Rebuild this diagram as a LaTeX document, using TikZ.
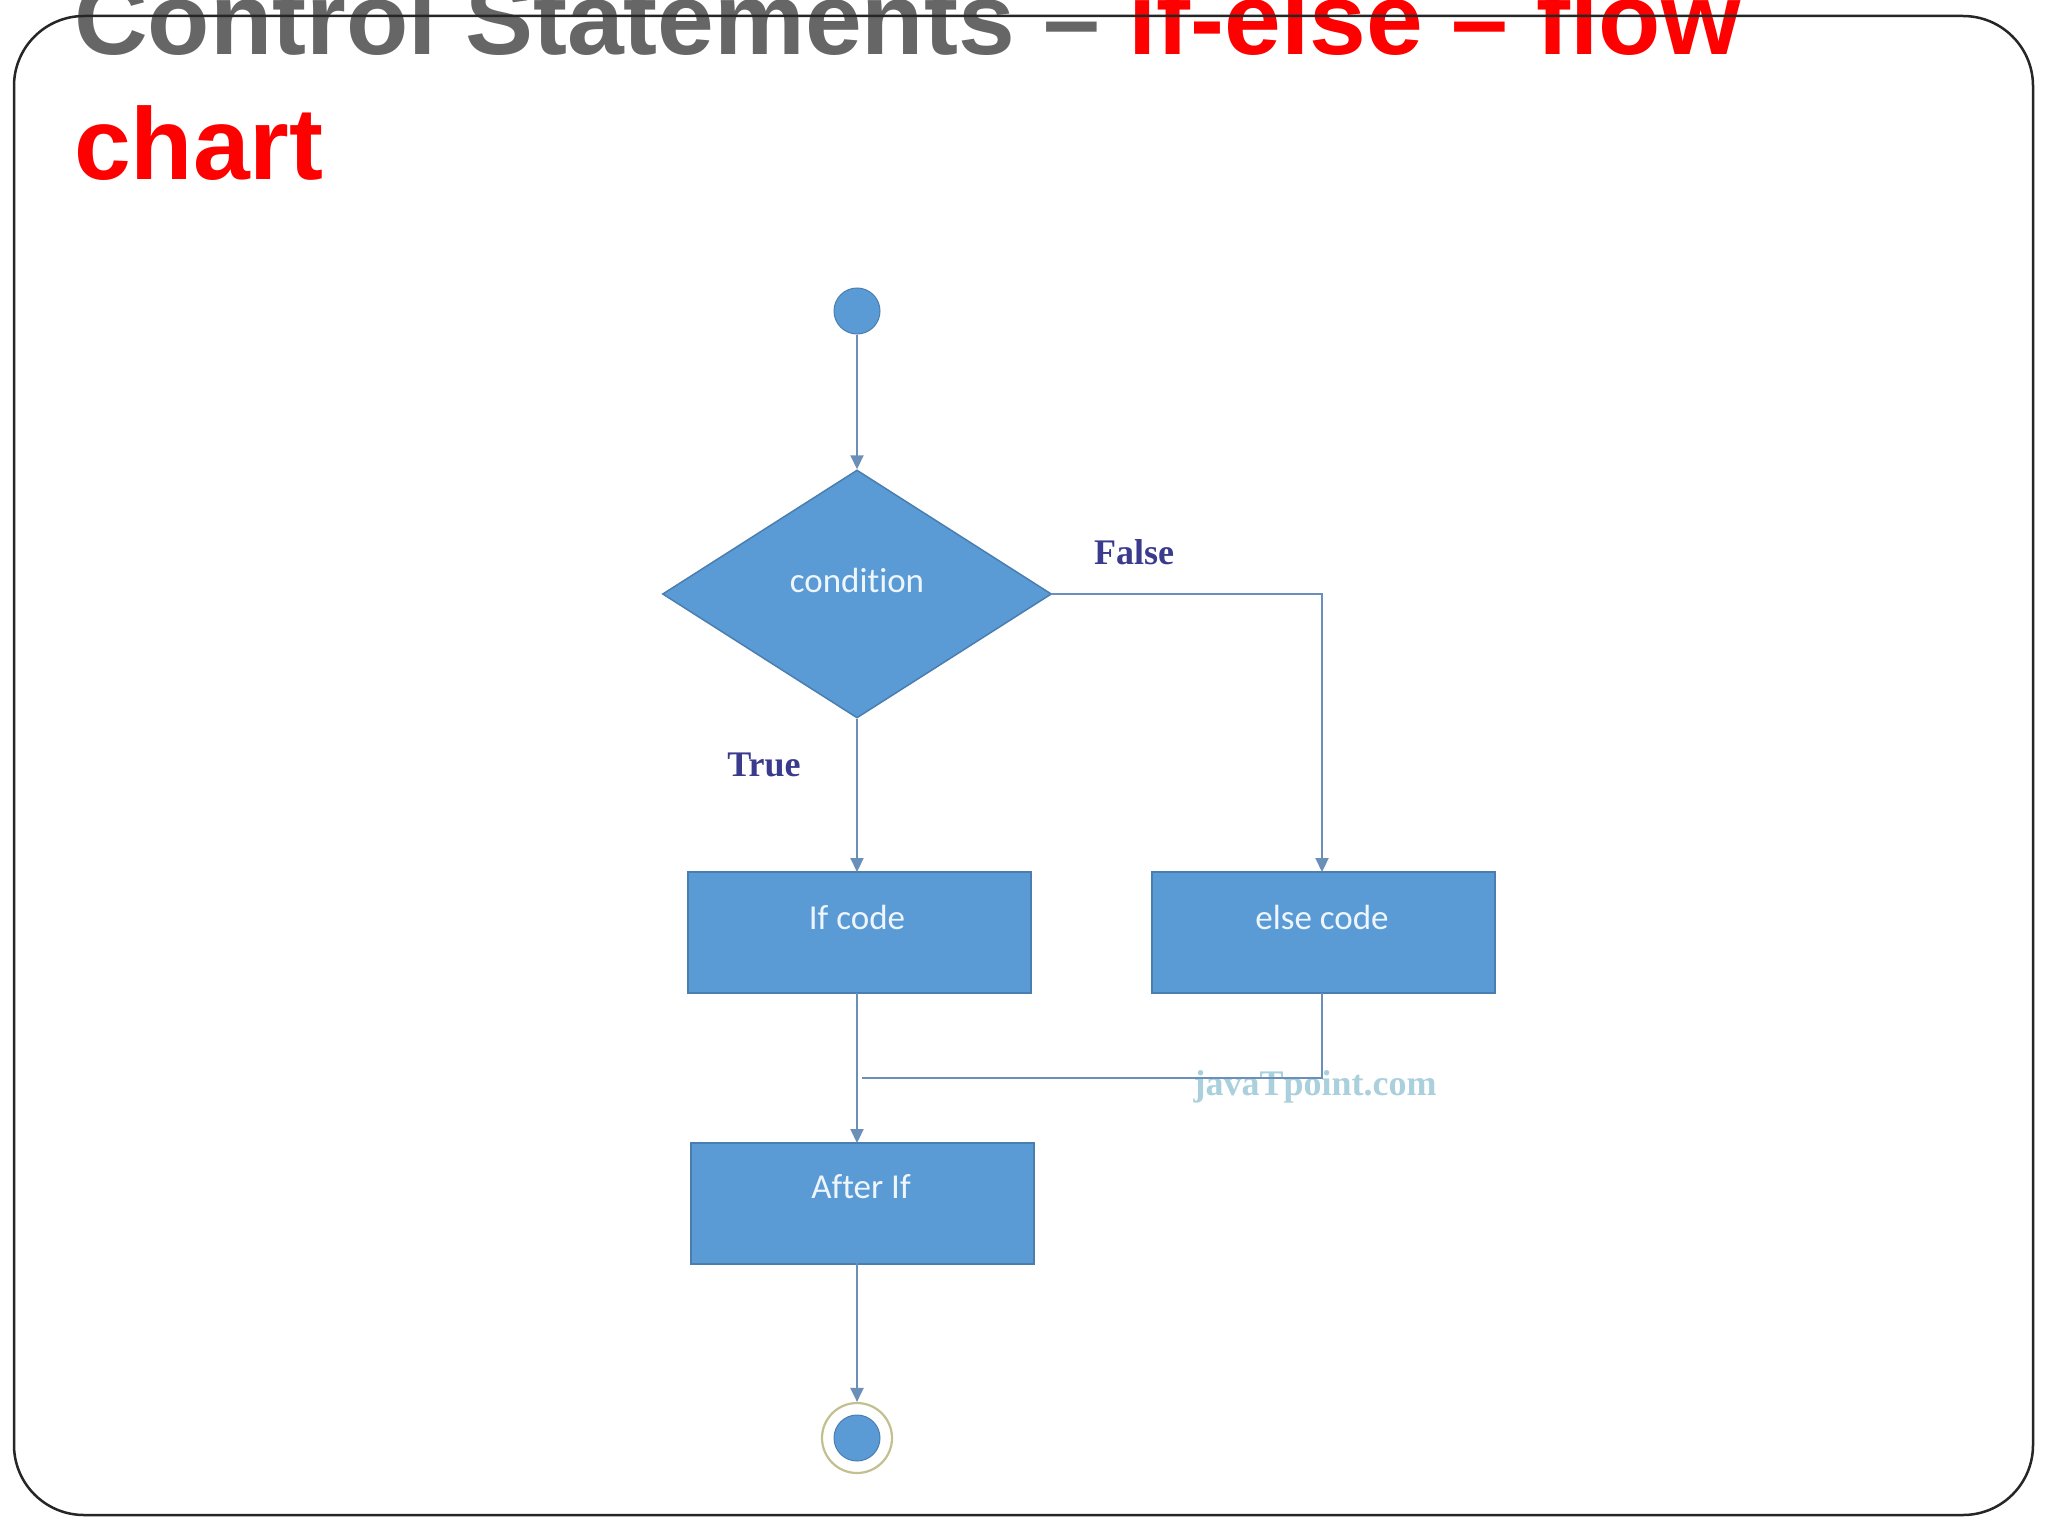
\documentclass[tikz,border=0pt]{standalone}
\usepackage{fontspec}
\setmainfont{Liberation Sans}
\newfontfamily\titlefont{Liberation Sans}
\newfontfamily\boxfont[Ligatures=NoCommon]{Carlito}
\newfontfamily\labfont{Liberation Serif}
\usetikzlibrary{shapes.geometric,arrows.meta}
\definecolor{boxfill}{HTML}{5B9BD5}
\definecolor{boxedge}{HTML}{4A7EB0}
\definecolor{conn}{HTML}{6A8FB8}
\definecolor{ringcol}{HTML}{C2C08E}
\definecolor{labcol}{HTML}{3B3B8E}
\definecolor{wmark}{HTML}{A9D0DC}
\definecolor{titlegrey}{HTML}{666666}
\definecolor{titlered}{HTML}{FF0000}
\definecolor{boxtextcol}{HTML}{EEF6FC}
\tikzset{
  box/.style={rectangle, draw=boxedge, fill=boxfill, line width=2pt, minimum width=343pt, minimum height=121pt, inner sep=0pt},
  decision/.style={diamond, draw=boxedge, fill=boxfill, line width=1.5pt, minimum width=389pt, minimum height=248pt, inner sep=0pt},
  boxtext/.style={text=boxtextcol, font=\boxfont\fontsize{35}{40}\selectfont, inner sep=0pt},
  lab/.style={text=labcol, font=\labfont\bfseries\fontsize{36}{40}\selectfont, inner sep=0pt},
  conline/.style={draw=conn, line width=2.2pt},
  conarrow/.style={conline, -{Triangle[length=14pt,width=13pt]}},
  titletext/.style={font=\titlefont\bfseries\fontsize{102}{124}\selectfont, inner sep=0pt, anchor=base west}
}
\begin{document}
\begin{tikzpicture}[x=1pt,y=-1pt]
\useasboundingbox (0,0) rectangle (2048,1536);
\fill[white] (0,0) rectangle (2048,1536);
% title
\node[titletext, text=titlegrey] (t1) at (74,55) {Control Statements \textendash{} \textcolor{titlered}{if-else \textendash{} flow}};
\node[titletext, text=titlered] (t2) at (74,179) {chart};
% frame
\draw[black!85, line width=2.5pt, rounded corners=70pt] (14,16) rectangle (2033,1515);
% nodes
\node[circle, fill=boxfill, draw=boxedge, line width=1pt, minimum size=46pt, inner sep=0pt] (start) at (857,311) {};
\node[decision] (cond) at (857,594) {};
\node[boxtext] (condt) at ([yshift=14pt]cond.center) {condition};
\node[box] (ifc) at (859.5,932.5) {};
\node[boxtext] (ifct) at (857,917) {If code};
\node[box] (elsec) at (1323.5,932.5) {};
\node[boxtext] (elset) at (1322,917) {else code};
\node[box] (after) at (862,1203) {};
\node[boxtext] (aftert) at (861,1187) {After If};
\node[circle, draw=ringcol, line width=2.2pt, minimum size=70pt, inner sep=0pt] (endring) at (857,1438) {};
\node[circle, fill=boxfill, draw=boxedge, line width=1pt, minimum size=46pt, inner sep=0pt] (enddot) at (857,1438) {};
% labels
\node[lab] (false) at (1134,552) {False};
\node[lab] (true) at (764,765) {True};
\node[text=wmark, font=\labfont\bfseries\fontsize{36}{40}\selectfont, inner sep=0pt] (wm) at (1315,1087) {javaTpoint.com};
% connectors
\draw[conarrow] (start) -- (cond.north);
\draw[conarrow] (cond.east) -| (1322,872);
\draw[conarrow] (cond.south) -- (857,872);
\draw[conarrow] (857,993) -- (857,1143);
\coordinate (merge) at (862,1078);
\draw[conline] (1322,993) |- (merge);
\draw[conarrow] (857,1263) -- (endring.north);
\end{tikzpicture}
\end{document}
